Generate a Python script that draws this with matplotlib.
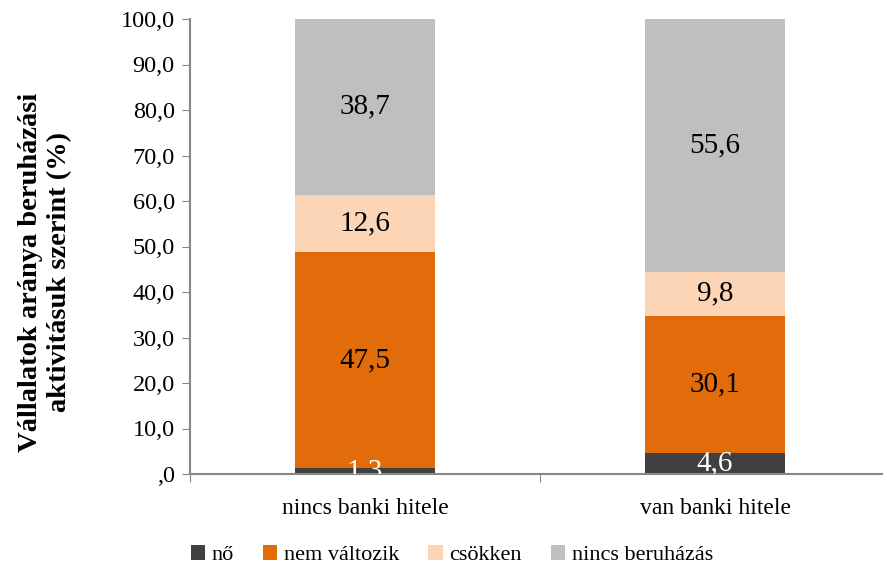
import matplotlib
import matplotlib.pyplot as plt
import numpy as np

matplotlib.use('agg')

categories = ['nincs banki hitele', 'van banki hitele']
series_names = ['nő', 'nem változik', 'csökken', 'nincs beruházás']
no = [1.3, 4.6]
nem_valtozik = [47.5, 30.1]
csokken = [12.6, 9.8]
nincs_beruhazas = [38.7, 55.6]
colors = ['#404040', '#E36C0A', '#FBD5B5', '#BFBFBF']
label_colors = ['white', 'black', 'black', 'black']

plt.rcParams['font.family'] = ['Liberation Serif', 'DejaVu Serif']

fig = plt.figure(figsize=(8.83, 5.67), dpi=100)
ax = fig.add_axes([190 / 883, 93 / 567, 700 / 883, 455 / 567])

x = np.arange(len(categories))
bottom = np.zeros(len(categories))
series = [no, nem_valtozik, csokken, nincs_beruhazas]
for vals, name, col, lc in zip(series, series_names, colors, label_colors):
    ax.bar(x, vals, 0.4, bottom=bottom, color=col, label=name)
    for xi, b, v in zip(x, bottom, vals):
        ax.text(xi, b + v / 2, ('%.1f' % v).replace('.', ','), ha='center', va='center',
                fontsize=21, color=lc, clip_on=True)
    bottom += np.array(vals)

ax.set_xlim(-0.5, 1.5)
ax.set_ylim(0, 100)
ax.set_yticks(np.arange(0, 101, 10))
ax.set_yticklabels([',0'] + ['%d,0' % v for v in range(10, 101, 10)], fontsize=17.5)
ax.set_xticks([-0.5, 0.5, 1.5])
ax.set_xticklabels([])
ax.set_xticks(x, minor=True)
ax.set_xticklabels(categories, minor=True, fontsize=17)
ax.tick_params(axis='x', which='minor', length=0, pad=17)
ax.tick_params(axis='x', which='major', length=6, color='#868686', direction='out')
ax.tick_params(axis='y', length=6, color='#868686', direction='out', pad=5)

for s in ['top', 'right']:
    ax.spines[s].set_visible(False)
for s in ['left', 'bottom']:
    ax.spines[s].set_color('#868686')
    ax.spines[s].set_linewidth(1.5)

# y label, two lines, placed in figure coords
fig.text(45 / 883, 1 - 272 / 567, 'Vállalatok aránya beruházási\naktivitásuk szerint (%)',
         rotation=90, ha='center', va='center', fontsize=20.5, fontweight='bold',
         linespacing=1.25)

fig.legend(loc='center', bbox_to_anchor=(452 / 883, 1 - 555 / 567), ncol=4, frameon=False,
           fontsize=16, handlelength=0.65, handleheight=0.65, handletextpad=0.3,
           columnspacing=1.3)

fig.savefig('out.png', dpi=100)
